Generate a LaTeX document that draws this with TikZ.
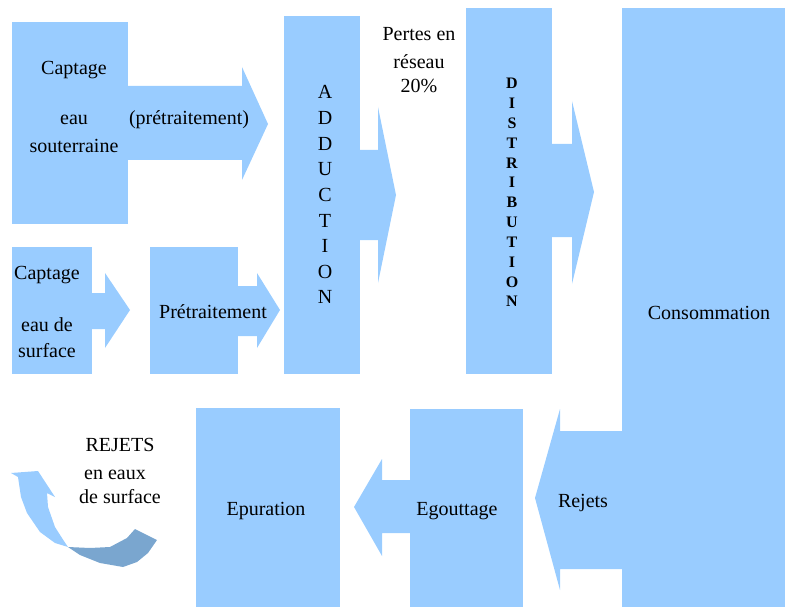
\documentclass[tikz,border=0pt]{standalone}
\usepackage{fontspec}
\setmainfont{Liberation Serif}
\newfontfamily\serf{Liberation Serif}
\definecolor{lb}{RGB}{153,204,255}
\definecolor{db}{RGB}{122,166,207}
\begin{document}
\begin{tikzpicture}[x=1pt,y=-1pt,
  blk/.style={fill=lb,draw=none},
  boxn/.style={fill=lb,draw=none,inner sep=0pt,anchor=north west},
  lbl/.style={font=\serf\fontsize{20}{24}\selectfont,anchor=base,inner sep=0pt},
  lblb/.style={font=\serf\fontsize{16}{18}\selectfont\bfseries,anchor=base,inner sep=0pt}]
\useasboundingbox (0,0) rectangle (785,607);
% boxes
\node[boxn,minimum width=116pt,minimum height=202pt] (cs) at (12,22) {};
\node[boxn,minimum width=80pt,minimum height=127pt] (sf) at (12,247) {};
\node[boxn,minimum width=88pt,minimum height=127pt] (pt) at (150,247) {};
\node[boxn,minimum width=76pt,minimum height=358pt] (ad) at (284,16) {};
\node[boxn,minimum width=86pt,minimum height=366pt] (di) at (466,8) {};
\node[boxn,minimum width=163pt,minimum height=599pt] (co) at (622,8) {};
\node[boxn,minimum width=144pt,minimum height=199pt] (ep) at (196,408) {};
\node[boxn,minimum width=113pt,minimum height=198pt] (eg) at (410,409) {};
% block arrows
\fill[lb] (128,86) -- (242,86) -- (242,67) -- (268,124) -- (242,180) -- (242,160) -- (128,160) -- cycle;
\fill[lb] (92,293) -- (105,293) -- (105,273) -- (130,310) -- (105,348) -- (105,329) -- (92,329) -- cycle;
\fill[lb] (238,286) -- (257,286) -- (257,273) -- (280,310) -- (257,348) -- (257,336) -- (238,336) -- cycle;
\fill[lb] (360,150) -- (378,150) -- (378,107) -- (396,195) -- (378,283) -- (378,240) -- (360,240) -- cycle;
\fill[lb] (552,144) -- (572,144) -- (572,101) -- (594,192) -- (572,284) -- (572,237) -- (552,237) -- cycle;
\fill[lb] (622,431) -- (560,431) -- (560,409) -- (535,498) -- (560,590) -- (560,569) -- (622,569) -- cycle;
\fill[lb] (410,480) -- (382,480) -- (382,459) -- (354,507) -- (382,556) -- (382,533) -- (410,533) -- cycle;
% curved arrow
\fill[lb] (11,473) -- (38,471) -- (55,497) -- (47,493) -- (48,507) -- (55,527) -- (62,538) -- (68,547) -- (55,543) -- (40,532) -- (27,513) -- (21,497) -- (18,477) -- cycle;
\fill[db] (68,547) -- (90,548) -- (110,547) -- (127,538) -- (135,529) -- (157,540) -- (148,553) -- (137,562) -- (123,567) -- (100,563) -- (80,555) -- cycle;
% texts
\node[lbl] (t1) at (74,75) {Captage};
\node[lbl] (t2) at (74,125) {eau};
\node[lbl] (t3) at (74,153) {souterraine};
\node[lbl] (t4) at (189,125) {(prétraitement)};
\node[lbl] (t5) at (47,279) {Captage};
\node[lbl] (t6) at (47,331) {eau de};
\node[lbl] (t7) at (47,357) {surface};
\node[lbl] (t8) at (213,318) {Prétraitement};
\node[lbl] (t9) at (419,41) {Pertes en};
\node[lbl] (t10) at (419,69) {réseau};
\node[lbl] (t11) at (419,93) {20\%};
\node[lbl] (t12) at (709,319) {Consommation};
\node[lbl] (t13) at (120,451) {REJETS};
\node[lbl] (t14) at (115,479) {en eaux};
\node[lbl] (t15) at (120,503) {de surface};
\node[lbl] (t16) at (266,515) {Epuration};
\node[lbl] (t17) at (457,515) {Egouttage};
\node[lbl] (t18) at (583,507) {Rejets};
\foreach \l [count=\i] in {A,D,D,U,C,T,I,O,N}
  \node[lbl] (ad\i) at (325,{99+(\i-1)*25.6}) {\l};
\foreach \l [count=\i] in {D,I,S,T,R,I,B,U,T,I,O,N}
  \node[lblb] (di\i) at (512,{89+(\i-1)*19.8}) {\l};
\end{tikzpicture}
\end{document}
